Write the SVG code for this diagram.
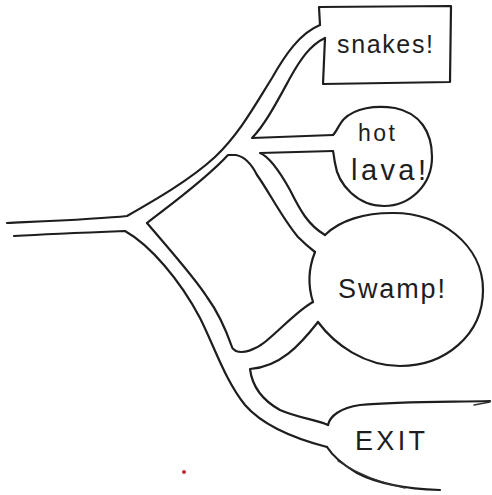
<svg xmlns="http://www.w3.org/2000/svg" width="492" height="495" viewBox="0 0 492 495">
<style>
.ln{fill:none;stroke:#1e1e1e;stroke-width:2.2;stroke-linecap:round;stroke-linejoin:round}
.lt{fill:none;stroke:#333;stroke-width:1.4;stroke-linecap:round}
.tx{font-family:"Liberation Sans","DejaVu Sans",sans-serif;fill:#1e1e1e}
</style>
<rect width="492" height="495" fill="#ffffff"/>
<g id="roads">
<path class="ln" d="M7,223 C50,221 100,219 127,216 C155,200 190,180 215,157 C240,133 255,105 272,78 C285,55 300,33 320,25"/>
<path class="ln" d="M325,38 C310,45 300,60 290,78 C278,100 265,125 252,138 L333,135"/>
<path class="ln" d="M333,151 L260,153 C270,157 280,172 290,190 C300,210 308,225 325,235"/>
<path class="ln" d="M318,322 C300,345 280,367 250,369 C252,385 262,400 280,410 C298,418 318,420 328,425"/>
<path class="ln" d="M14,236 C50,234 100,232 125,231 C150,245 180,280 200,318 C215,348 225,380 245,405 C265,428 300,440 327,447"/>
<path class="ln" d="M147,223 C170,205 205,180 228,155 L236,155 C246,157 252,165 257,175 C268,190 282,218 298,237 C306,245 311,249 315,252"/>
<path class="ln" d="M313,302 C298,310 280,330 265,342 C255,350 243,354 236,351 C233,349 232,348 232,347 C226,330 218,312 207,297 C195,278 170,250 147,223"/>
</g>
<g id="snakes">
<path class="ln" d="M320,25 L319,7 L451,6 L450,82 L323,84 L325,38"/>
<text class="tx" x="337" y="53" font-size="25" textLength="96" lengthAdjust="spacing">snakes!</text>
</g>
<g id="hot-lava">
<path class="ln" d="M333,135 C337,131 339,124 344,119 C355,108 375,105 395,108 C420,113 432,132 432,157 C432,185 410,206 384,206 C358,206 338,185 335,163 C334,158 334,155 333,151"/>
<text class="tx" x="358" y="141" font-size="23" textLength="37" lengthAdjust="spacing">hot</text>
<text class="tx" x="351" y="180" font-size="29" textLength="75" lengthAdjust="spacing">lava!</text>
</g>
<g id="swamp">
<path class="ln" d="M325,235 C340,220 365,213 392,213 C440,212 483,245 483,290 C483,335 445,366 400,366 C365,366 335,345 318,322"/>
<path class="ln" d="M315,252 Q305,277 313,302"/>
<text class="tx" x="338" y="298" font-size="27" textLength="107" lengthAdjust="spacing">Swamp!</text>
</g>
<g id="exit">
<path class="ln" d="M328,425 C330,416 340,408 360,405 C400,401 450,402 490,401"/>
<path class="lt" d="M474,405 L490,402"/>
<path class="ln" d="M327,447 C332,455 340,463 357,473 C380,485 410,489 440,490"/>
<path class="lt" d="M338,461 C355,472 375,482 405,488"/>
<text class="tx" x="355" y="450" font-size="27" textLength="70" lengthAdjust="spacing">EXIT</text>
</g>
<circle cx="184" cy="472" r="2" fill="#c0303a"/>
</svg>
